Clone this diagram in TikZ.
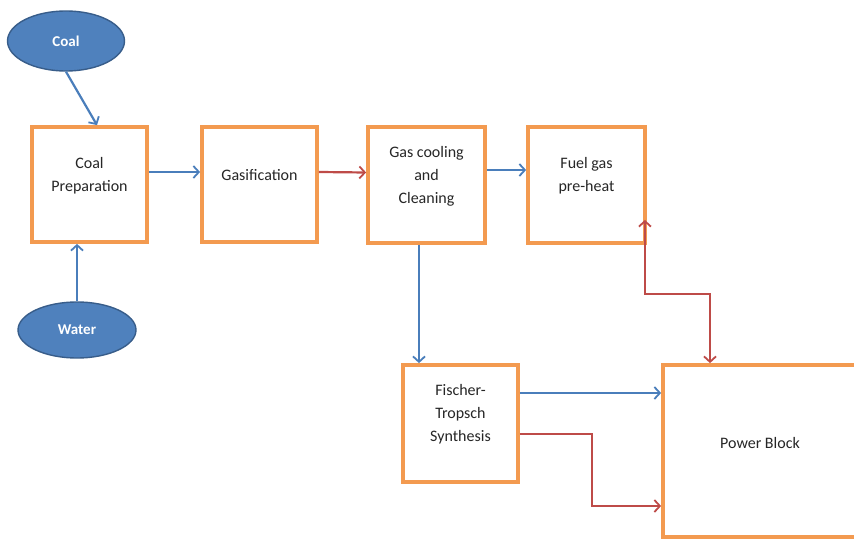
\documentclass[tikz,border=0pt]{standalone}
\usepackage{fontspec}
\setmainfont{Carlito}
\usetikzlibrary{arrows.meta,shapes.geometric}

\definecolor{laranja}{HTML}{F39A50}
\definecolor{azul}{HTML}{4A7EBB}
\definecolor{vermelho}{HTML}{BE4B48}
\definecolor{elipse}{HTML}{4F81BD}
\definecolor{elipseborda}{HTML}{385D8A}

\begin{document}
\begin{tikzpicture}[x=1pt, y=-1pt,
    bloco/.style={draw=laranja, line width=3.8pt, fill=white, rectangle, inner sep=0pt},
    texto/.style={align=center, font=\fontsize{16}{23}\selectfont, text=black!85},
    entrada/.style={ellipse, draw=elipseborda, line width=1.4pt, fill=elipse, inner sep=0pt,
        text=white, font=\fontsize{15}{18}\selectfont\bfseries},
    seta/.style={line width=2.2pt, -{Straight Barb[length=5.5pt,width=12pt,line width=1.8pt]}},
    fluxo/.style={seta, draw=azul},
    quente/.style={seta, draw=vermelho}]
        \clip (0,0) rectangle (854,540);
        \useasboundingbox (0,0) rectangle (854,540);

        % Entradas
        \node[entrada, minimum width=117, minimum height=60] (coal) at (66,41) {Coal};
        \node[entrada, minimum width=118, minimum height=56] (water) at (77,330) {Water};

        % Blocos do processo
        \node[bloco, minimum width=115, minimum height=115] (prep) at (89.5,184.5) {};
        \node[bloco, minimum width=115, minimum height=115] (gasi) at (259.5,184.5) {};
        \node[bloco, minimum width=117, minimum height=116] (clean) at (426.5,185) {};
        \node[bloco, minimum width=117, minimum height=116] (fuel) at (586.5,185) {};
        \node[bloco, minimum width=115, minimum height=117] (ft) at (460.5,423.5) {};
        \node[bloco, minimum width=200, minimum height=172] (power) at (763,451) {};

        \node[texto] (prept) at ([yshift=9]prep.center) {Coal\\Preparation};
        \node[texto] (gasit) at ([yshift=9]gasi.center) {Gasification};
        \node[texto] (cleant) at ([yshift=9]clean.center) {Gas cooling\\and\\Cleaning};
        \node[texto] (fuelt) at ([yshift=9]fuel.center) {Fuel gas\\pre-heat};
        \node[texto] (ftt) at ([yshift=9]ft.center) {Fischer-\\Tropsch\\Synthesis};
        \node[texto] (powert) at ([xshift=-3,yshift=8]power.center) {Power Block};

        % Ligacoes
        \draw[fluxo] (coal.south) -- ([xshift=7.5]prep.north);
        \draw[fluxo] (water.north) -- (water.north |- prep.south);
        \draw[fluxo] ([yshift=12.5]prep.east) -- ([yshift=12.5]gasi.west);
        \draw[quente] ([yshift=12.5]gasi.east) -- ([yshift=12.5]clean.west);
        \draw[fluxo] ([yshift=15]clean.east) -- ([yshift=15]fuel.west);
        \draw[fluxo] ([xshift=-7.5]clean.south) -- ([xshift=-7.5]clean.south |- ft.north);
        \draw[quente, {Straight Barb[length=5.5pt,width=12pt,line width=1.8pt]}-{Straight Barb[length=5.5pt,width=12pt,line width=1.8pt]}]
            ([xshift=-2,yshift=25]fuel.south east) -- ++(0,74) -| ([xshift=-53]power.north);
        \draw[fluxo] ([yshift=30.5]ft.east) -- ([yshift=30.5]ft.east -| power.west);
        \draw[quente] ([yshift=-10.5]ft.east) -- ++(72,0) |- ([yshift=-55]power.west);
    \end{tikzpicture}
\end{document}
